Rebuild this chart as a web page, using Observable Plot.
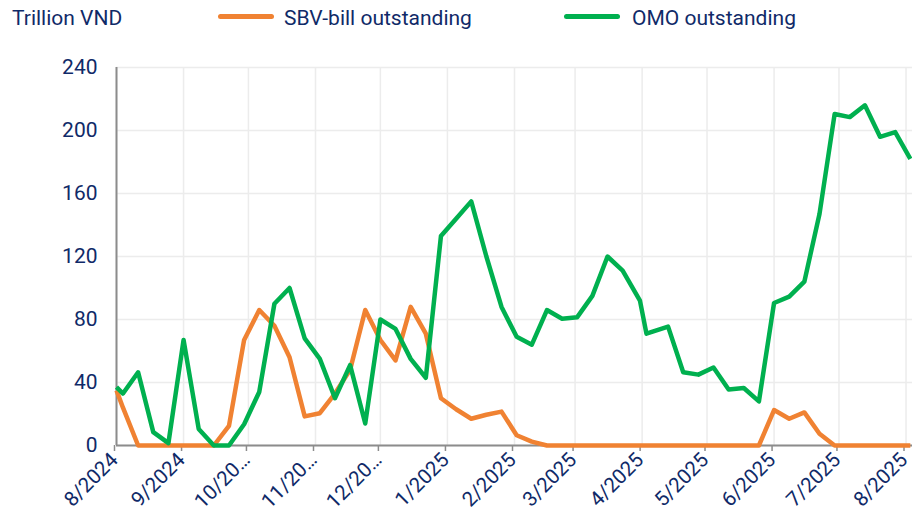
<!DOCTYPE html>
<html>
<head>
<meta charset="utf-8">
<script src="https://cdn.jsdelivr.net/npm/d3@7"></script>
<script src="https://cdn.jsdelivr.net/npm/@observablehq/plot@0.6"></script>
<style>
  body { margin: 0; background: #fff; font-family: Roboto, "Noto Sans", sans-serif; }
  #wrap { position: relative; width: 912px; height: 522px; overflow: hidden; }
  #chart { position: absolute; left: 0; top: 0; }
  .unit { position: absolute; left: 12px; top: 6px; font-size: 21px; line-height: normal; color: #102a68; }
  .item { position: absolute; top: 6px; font-size: 21px; line-height: normal; color: #102a68; white-space: nowrap; }
  .sw { position: absolute; top: 14px; width: 56px; height: 5px; border-radius: 3px; }
</style>
</head>
<body>
<div id="wrap">
  <div id="chart"></div>
  <div id="legend"></div>
</div>
<script>
const dates = [
  "2024-08-01","2024-08-04","2024-08-11","2024-08-18","2024-08-25",
  "2024-09-01","2024-09-08","2024-09-15","2024-09-22","2024-09-29",
  "2024-10-06","2024-10-13","2024-10-20","2024-10-27",
  "2024-11-03","2024-11-10","2024-11-17","2024-11-24",
  "2024-12-01","2024-12-08","2024-12-15","2024-12-22","2024-12-29",
  "2025-01-05","2025-01-12","2025-01-19","2025-01-26",
  "2025-02-02","2025-02-09","2025-02-16","2025-02-23",
  "2025-03-02","2025-03-09","2025-03-16","2025-03-23","2025-03-31",
  "2025-04-03","2025-04-13","2025-04-20","2025-04-27",
  "2025-05-04","2025-05-11","2025-05-18","2025-05-25",
  "2025-06-01","2025-06-08","2025-06-15","2025-06-22","2025-06-29",
  "2025-07-06","2025-07-13","2025-07-20","2025-07-27",
  "2025-08-03"
];
const sbvBill = [
  35, 24, 0, 0, 0,
  0, 0, 0, 12.5, 67,
  86, 76, 56, 18.5,
  20.5, 33, 48, 86,
  67, 54, 88, 71, 30,
  23, 17, 19.5, 21.5,
  6.5, 2.5, 0, 0,
  0, 0, 0, 0, 0,
  0, 0, 0, 0,
  0, 0, 0, 0,
  22.5, 17, 21, 7.5, 0,
  0, 0, 0, 0,
  0
];
const omo = [
  37, 33, 46.5, 8.5, 1.5,
  67, 10.5, 0, 0, 13.5,
  34, 90, 100, 68,
  55, 30, 51, 14,
  80, 74, 55, 43, 133,
  144, 155, 120, 88,
  69, 64, 86, 80.5,
  81.5, 95, 120, 111, 92,
  71, 75.5, 46.5, 45,
  49.5, 35.5, 36.5, 28,
  90.5, 94.5, 104, 147, 210.5,
  208.5, 216, 196, 199,
  182
];
const seriesNames = ["SBV-bill outstanding", "OMO outstanding"];
const seriesColors = ["#F08232", "#00B04F"];
const unitLabel = "Trillion VND";
const monthTicks = [
  "2024-08-01","2024-09-01","2024-10-01","2024-11-01","2024-12-01",
  "2025-01-01","2025-02-01","2025-03-01","2025-04-01","2025-05-01",
  "2025-06-01","2025-07-01","2025-08-01"
];
const monthLabels = ["8/2024","9/2024","10/20…","11/20…","12/20…","1/2025","2/2025","3/2025","4/2025","5/2025","6/2025","7/2025","8/2025"];
const yTicks = [0, 40, 80, 120, 160, 200, 240];

const parse = d3.utcParse("%Y-%m-%d");
const tickDates = monthTicks.map(parse);
const rows = [];
[sbvBill, omo].forEach((vals, s) => {
  vals.forEach((v, i) => rows.push({date: parse(dates[i]), value: v, series: seriesNames[s]}));
});

const navy = "#102a68";
const chart = Plot.plot({
  width: 912,
  height: 522,
  marginTop: 67,
  marginBottom: 77,
  marginLeft: 116,
  marginRight: 0,
  style: {fontFamily: "Roboto, 'Noto Sans', sans-serif", background: "#fff"},
  x: {type: "utc", domain: [parse("2024-08-01"), parse("2025-08-04")]},
  y: {domain: [0, 240]},
  color: {domain: seriesNames, range: seriesColors},
  marks: [
    Plot.gridX(tickDates, {stroke: "#ececec", strokeOpacity: 1, strokeWidth: 1.5}),
    Plot.gridY(yTicks, {stroke: "#ececec", strokeOpacity: 1, strokeWidth: 1.5}),
    Plot.axisY({ticks: yTicks, tickSize: 0, tickPadding: 19, fontSize: 21, fill: navy, label: null}),
    Plot.axisX({
      ticks: tickDates,
      tickFormat: (d, i) => monthLabels[i],
      tickRotate: -45,
      tickSize: 6,
      tickPadding: 5,
      fontSize: 20.5,
      dx: -2,
      stroke: "#8c8c8c",
      strokeWidth: 1.5,
      fill: navy,
      label: null
    }),
    Plot.ruleY([0], {stroke: "#8c8c8c", strokeWidth: 2}),
    Plot.ruleX([parse("2024-08-01")], {stroke: "#8c8c8c", strokeWidth: 2}),
    Plot.line(rows, {x: "date", y: "value", z: "series", stroke: "series", strokeWidth: 4.5, strokeLinejoin: "round", strokeLinecap: "butt"})
  ]
});
document.getElementById("chart").appendChild(chart);

// Legend
const legend = document.getElementById("legend");
const unit = document.createElement("div");
unit.className = "unit";
unit.textContent = unitLabel;
legend.appendChild(unit);
const swLeft = [218, 564];
const txtLeft = [284, 632];
seriesNames.forEach((name, i) => {
  const sw = document.createElement("div");
  sw.className = "sw";
  sw.style.left = swLeft[i] + "px";
  sw.style.background = seriesColors[i];
  legend.appendChild(sw);
  const t = document.createElement("div");
  t.className = "item";
  t.style.left = txtLeft[i] + "px";
  t.textContent = name;
  legend.appendChild(t);
});
</script>
</body>
</html>
